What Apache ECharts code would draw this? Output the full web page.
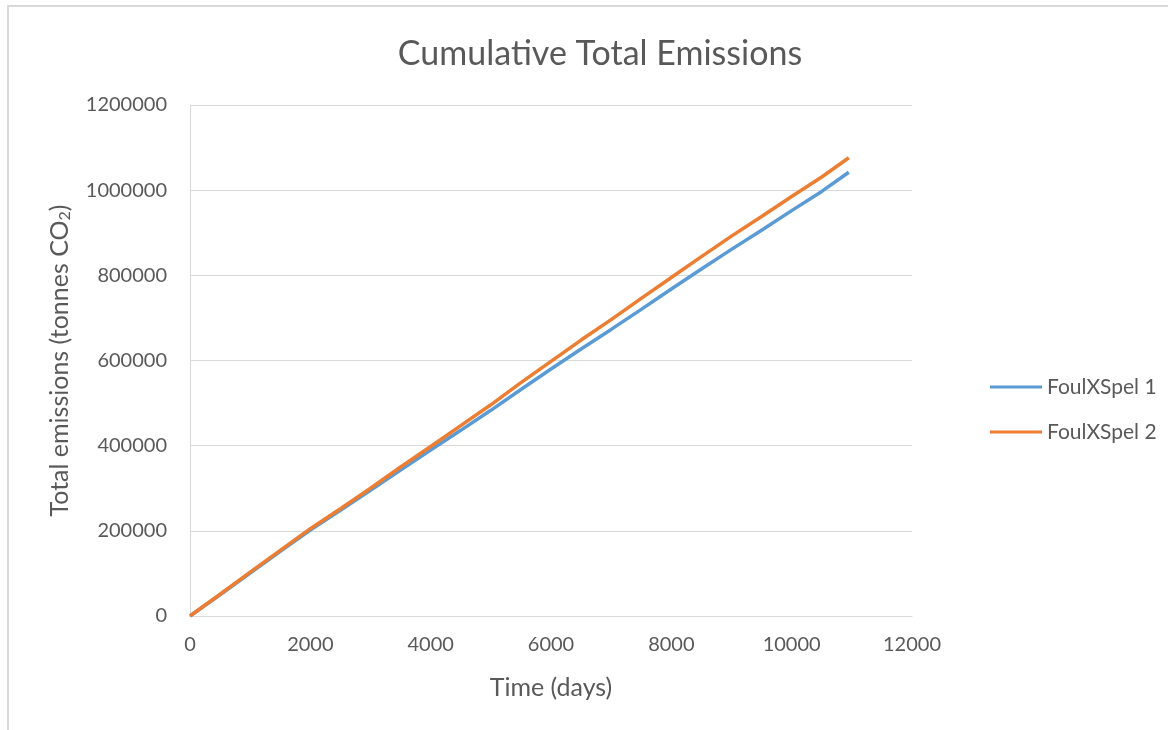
<!DOCTYPE html>
<html>
<head>
<meta charset="utf-8">
<script src="https://cdn.jsdelivr.net/npm/echarts@6/dist/echarts.min.js"></script>
<style>
  html, body { margin: 0; padding: 0; background: #fff; }
  #chart { width: 1168px; height: 730px; }
</style>
</head>
<body>
<div id="chart"></div>
<script>
// time in days
const days = [0, 500, 1000, 1500, 2000, 2500, 3000, 3500, 4000, 4500, 5000,
              5500, 6000, 6500, 7000, 7500, 8000, 8500, 9000, 9500, 10000, 10500, 10950];
// cumulative emissions, tonnes CO2
const foulXSpel1 = [0, 50000, 101000, 152000, 202000, 248000, 295000, 343000, 390000, 436000, 483000,
                    532000, 580000, 627000, 673000, 720000, 768000, 815000, 861000, 906000, 952000, 997000, 1042000];
const foulXSpel2 = [0, 51000, 103000, 154000, 205000, 252000, 300000, 350000, 398000, 447000, 496000,
                    548000, 598000, 648000, 696000, 746000, 795000, 844000, 892000, 938000, 985000, 1031000, 1076000];
const seriesNames = ["FoulXSpel 1", "FoulXSpel 2"];
const colors = ["#5B9BD5", "#ED7D31"];

function pairs(xs, ys) {
    let out = [];
    for (let i = 0; i < xs.length; i++) {
        out.push([xs[i], ys[i]]);
    }
    return out;
}

// plain numbers, no thousands separator
function plain(v) {
    return String(v);
}

const textColor = "#595959";
const font = "Lato, 'Open Sans', sans-serif";

const chart = echarts.init(document.getElementById("chart"));
chart.setOption({
    animation: false,
    textStyle: { fontFamily: font, color: textColor },
    title: {
        text: "Cumulative Total Emissions",
        left: 595,
        top: 32,
        textAlign: "center",
        textStyle: { fontSize: 34, fontWeight: "normal", color: textColor, fontFamily: font }
    },
    graphic: [{
        type: "rect",
        shape: { x: 8, y: 6, width: 1400, height: 900 },
        style: { fill: "none", stroke: "#d9d9d9", lineWidth: 2 },
        silent: true
    }],
    legend: {
        orient: "vertical",
        left: 985,
        top: 370,
        itemGap: 21,
        itemWidth: 52,
        itemHeight: 3,
        icon: "rect",
        data: seriesNames,
        textStyle: { fontSize: 21, lineHeight: 24, color: textColor, fontFamily: font }
    },
    grid: { left: 190, right: 256, top: 105, bottom: 114 },
    xAxis: {
        type: "value",
        min: 0,
        max: 12000,
        interval: 2000,
        name: "Time (days)",
        nameLocation: "middle",
        nameGap: 59,
        nameTextStyle: { fontSize: 25, color: textColor, fontFamily: font },
        axisLine: { show: true, lineStyle: { color: "#d9d9d9", width: 1 } },
        axisTick: { show: false },
        splitLine: { show: false },
        axisLabel: { fontSize: 20, color: textColor, margin: 19, fontFamily: font, formatter: plain }
    },
    yAxis: {
        type: "value",
        min: 0,
        max: 1200000,
        interval: 200000,
        name: "{n|Total emissions (tonnes CO}{s|2}{n|)}",
        nameLocation: "middle",
        nameGap: 117,
        nameRotate: 90,
        nameTextStyle: {
            rich: {
                n: { fontSize: 25, color: textColor, fontFamily: font },
                s: { fontSize: 16, color: textColor, fontFamily: font, verticalAlign: "bottom", padding: [10, 0, 0, 0] }
            }
        },
        axisLine: { show: true, lineStyle: { color: "#d9d9d9", width: 1 } },
        axisTick: { show: false },
        splitLine: { show: true, lineStyle: { color: "#d9d9d9", width: 1 } },
        axisLabel: { fontSize: 20, color: textColor, margin: 23, fontFamily: font, formatter: plain }
    },
    series: [
        {
            name: seriesNames[0],
            type: "line",
            data: pairs(days, foulXSpel1),
            symbol: "none",
            lineStyle: { color: colors[0], width: 3.5 },
            itemStyle: { color: colors[0] }
        },
        {
            name: seriesNames[1],
            type: "line",
            data: pairs(days, foulXSpel2),
            symbol: "none",
            lineStyle: { color: colors[1], width: 3.5 },
            itemStyle: { color: colors[1] }
        }
    ]
});
</script>
</body>
</html>
